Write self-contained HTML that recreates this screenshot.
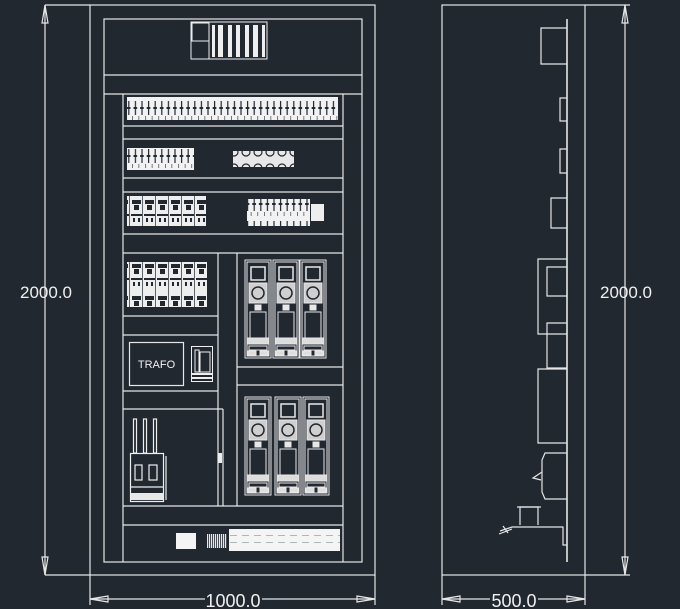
<!DOCTYPE html>
<html><head><meta charset="utf-8"><style>
html,body{margin:0;padding:0;background:#212830;}
svg{display:block}
text{font-family:"Liberation Sans",sans-serif;fill:#f0f0f0}
</style></head><body>
<svg width="680" height="609" viewBox="0 0 680 609" xmlns="http://www.w3.org/2000/svg">
<defs>
<pattern id="term" width="6.6" height="24" patternUnits="userSpaceOnUse">
<rect width="6.6" height="24" fill="#f2f2f2"/>
<rect x="2.8" y="5" width="1.2" height="14" fill="#212830"/>
<rect x="1.5" y="11" width="3.6" height="2" fill="#212830"/>
<rect x="0" y="20" width="0.6" height="4" fill="#212830"/>
</pattern>
<pattern id="mcb" width="13" height="32" patternUnits="userSpaceOnUse">
<rect width="13" height="32" fill="#eeeeee"/>
<rect x="2" y="8" width="9" height="4" fill="#212830"/>
<rect x="4" y="13" width="5" height="5" fill="#212830"/>
<rect x="1" y="22" width="11" height="2" fill="#212830"/>
<rect x="12.3" y="0" width="0.7" height="32" fill="#212830"/>
<rect x="3" y="26" width="2" height="4" fill="#212830"/>
<rect x="8" y="26" width="2" height="4" fill="#212830"/>
</pattern>
<pattern id="fan" width="12" height="16" patternUnits="userSpaceOnUse">
<rect width="12" height="16" fill="#e8e8e8"/>
<circle cx="6" cy="8" r="4" fill="none" stroke="#212830" stroke-width="1.2"/>
</pattern>
<pattern id="bot" width="12" height="22" patternUnits="userSpaceOnUse">
<rect width="12" height="22" fill="#f4f4f4"/>
<rect x="2" y="7" width="7" height="0.8" fill="#9aa"/>
<rect x="2" y="14" width="7" height="0.8" fill="#9aa"/>
</pattern>
<pattern id="stripe" width="2" height="10" patternUnits="userSpaceOnUse">
<rect width="2" height="10" fill="#e8e8e8"/><rect width="0.8" height="10" fill="#212830"/>
</pattern>
<g id="drive" fill="none" stroke="#e8e8e8" stroke-width="1">
<rect x="0" y="0" width="26" height="98"/>
<rect x="2" y="2" width="22" height="94"/>
<rect x="6" y="7" width="14" height="13" stroke-width="1.5"/>
<rect x="4" y="23" width="18" height="20" fill="#cfcfcf" stroke="#e8e8e8"/>
<circle cx="13" cy="33" r="6" stroke="#212830" stroke-width="1.5"/>
<rect x="10" y="45" width="6" height="5" fill="#e8e8e8"/>
<rect x="5" y="52" width="16" height="26"/>
<rect x="2" y="78" width="22" height="6" fill="#dddddd"/>
<rect x="4" y="86" width="18" height="4"/>
<rect x="3" y="91" width="8" height="4" fill="#dddddd"/>
<rect x="15" y="91" width="8" height="4" fill="#dddddd"/>
</g>
</defs>
<g fill="none" stroke="#e6e6e6" stroke-width="1.2">
<!-- left dim -->
<line x1="45" y1="5" x2="45" y2="575"/>
<line x1="45" y1="5" x2="90" y2="5"/><line x1="45" y1="575" x2="90" y2="575"/>
<path d="M45 5 L42 23 L48 23 Z"/><path d="M45 575 L42 557 L48 557 Z"/>
<!-- front outer -->
<rect x="90" y="5" width="285" height="570"/>
<rect x="104" y="19" width="258" height="543"/>
<line x1="104" y1="75" x2="362" y2="75"/>
<line x1="104" y1="94" x2="362" y2="94"/>
<line x1="123" y1="94" x2="123" y2="562"/>
<line x1="343" y1="94" x2="343" y2="562"/>
<line x1="123" y1="126" x2="343" y2="126"/>
<line x1="123" y1="139" x2="343" y2="139"/>
<line x1="123" y1="178" x2="343" y2="178"/>
<line x1="123" y1="192" x2="343" y2="192"/>
<line x1="123" y1="234" x2="343" y2="234"/>
<line x1="123" y1="253" x2="343" y2="253"/>
<line x1="218" y1="253" x2="218" y2="506"/>
<line x1="237" y1="253" x2="237" y2="506"/>
<line x1="123" y1="316" x2="218" y2="316"/>
<line x1="123" y1="335" x2="218" y2="335"/>
<line x1="123" y1="391" x2="218" y2="391"/>
<line x1="123" y1="409" x2="223" y2="409"/>
<line x1="223" y1="409" x2="223" y2="506"/>
<line x1="237" y1="367" x2="343" y2="367"/>
<line x1="237" y1="385" x2="343" y2="385"/>
<line x1="123" y1="506" x2="343" y2="506"/>
<line x1="123" y1="525" x2="343" y2="525"/>
<!-- bottom dim -->
<line x1="90" y1="575" x2="90" y2="605"/><line x1="375" y1="575" x2="375" y2="605"/>
<line x1="90" y1="599" x2="205" y2="599"/><line x1="262" y1="599" x2="375" y2="599"/>
<path d="M90 599 L108 596 L108 602 Z"/><path d="M375 599 L357 596 L357 602 Z"/>
</g>
<!-- top PLC -->
<g fill="none" stroke="#eeeeee" stroke-width="1">
<rect x="191" y="22" width="76" height="37"/>
<rect x="192" y="23" width="17" height="18"/>
<line x1="209" y1="22" x2="209" y2="59"/>
</g>
<g fill="#eeeeee">
<rect x="212" y="25" width="3" height="32"/><rect x="218" y="25" width="5" height="32"/>
<rect x="228" y="25" width="4" height="32"/><rect x="236" y="25" width="4" height="32"/>
<rect x="245" y="25" width="4" height="32"/><rect x="253" y="25" width="5" height="32"/>
<rect x="262" y="25" width="3" height="32"/>
</g>
<!-- terminals -->
<rect x="127" y="97" width="211" height="23" fill="url(#term)"/>
<rect x="127" y="148" width="67" height="22" fill="url(#term)"/>
<rect x="233" y="151" width="61" height="16" fill="url(#fan)"/>
<rect x="127" y="196" width="79" height="30" fill="url(#mcb)"/>
<rect x="247" y="199" width="63" height="27" fill="url(#term)"/>
<rect x="311" y="204" width="13" height="17" fill="#eeeeee"/>
<rect x="127" y="262" width="80" height="45" fill="url(#mcb)"/>
<!-- TRAFO -->
<rect x="129.5" y="342.5" width="54" height="43" fill="none" stroke="#e6e6e6" stroke-width="1.2"/>
<text x="156.5" y="368" font-size="11" text-anchor="middle">TRAFO</text>
<g fill="none" stroke="#eeeeee" stroke-width="1"><rect x="191.5" y="346.5" width="21" height="35"/><rect x="195" y="350" width="4" height="22"/><rect x="200" y="352" width="10" height="20"/></g>
<rect x="192" y="373" width="20" height="2" fill="#eee"/><rect x="192" y="377" width="20" height="2" fill="#eee"/>
<!-- drives -->
<use href="#drive" x="245" y="260"/><use href="#drive" x="273" y="260"/><use href="#drive" x="300" y="260"/>
<use href="#drive" x="245" y="397"/><use href="#drive" x="275" y="397"/><use href="#drive" x="303" y="397"/>
<!-- breaker -->
<g fill="none" stroke="#eeeeee" stroke-width="1.2">
<rect x="133.5" y="419" width="3" height="34"/><rect x="143.5" y="419" width="3" height="34"/><rect x="153.5" y="419" width="3" height="34"/>
<rect x="130.5" y="453.5" width="33" height="48"/>
<rect x="135" y="465" width="7" height="15"/><rect x="149" y="465" width="8" height="15"/>
<line x1="130" y1="487" x2="164" y2="487"/><line x1="166" y1="456" x2="166" y2="500"/>
</g>
<rect x="131" y="493" width="32" height="7" fill="#e8e8e8"/>
<rect x="218" y="453" width="4" height="10" fill="#eeeeee"/>
<!-- bottom row -->
<rect x="176" y="533" width="20" height="16" fill="#f4f4f4"/>
<rect x="207" y="534" width="20" height="14" fill="url(#stripe)"/>
<rect x="229" y="529" width="111" height="22" fill="url(#bot)"/>
<text x="233" y="607" font-size="18" text-anchor="middle">1000.0</text>
<text x="46" y="298" font-size="17" text-anchor="middle">2000.0</text>
<!-- side view -->
<g fill="none" stroke="#e6e6e6" stroke-width="1.2">
<rect x="442" y="5" width="143" height="570"/>
<line x1="585" y1="5" x2="630" y2="5"/><line x1="585" y1="575" x2="630" y2="575"/>
<line x1="625" y1="5" x2="625" y2="575"/>
<path d="M625 5 L622 23 L628 23 Z"/><path d="M625 575 L622 557 L628 557 Z"/>
<line x1="442" y1="575" x2="442" y2="605"/><line x1="585" y1="575" x2="585" y2="605"/>
<line x1="442" y1="599" x2="490" y2="599"/><line x1="538" y1="599" x2="585" y2="599"/>
<path d="M442 599 L460 596 L460 602 Z"/><path d="M585 599 L567 596 L567 602 Z"/>
<line x1="567" y1="19" x2="567" y2="562" stroke-width="1.6"/>
<path d="M567 28 H541 V64 H567"/>
<path d="M567 98 H560 V121 H567"/>
<path d="M567 149 H560 V173 H567"/>
<path d="M567 198 H551 V228 H567"/>
<path d="M567 259 H538 V334 H567"/>
<path d="M567 267 H547 V296 H567"/>
<path d="M567 323 H547 V368 H567"/>
<path d="M567 369 H538 V443 H567"/>
<path d="M567 453 H545 L542 460 V492 L545 499 H567"/>
<path d="M542 472 L533 478 L541 480"/>
<path d="M520 525 V507 H538 V525"/><line x1="517" y1="507" x2="541" y2="507"/>
<path d="M512 527 H563 V545 H567"/>
<path d="M512 527 L500 531 M503 526 L508 533 M499 534 L512 529"/>
</g>
<text x="626" y="298" font-size="17" text-anchor="middle">2000.0</text>
<text x="514" y="607" font-size="18" text-anchor="middle">500.0</text>
</svg>
</body></html>
